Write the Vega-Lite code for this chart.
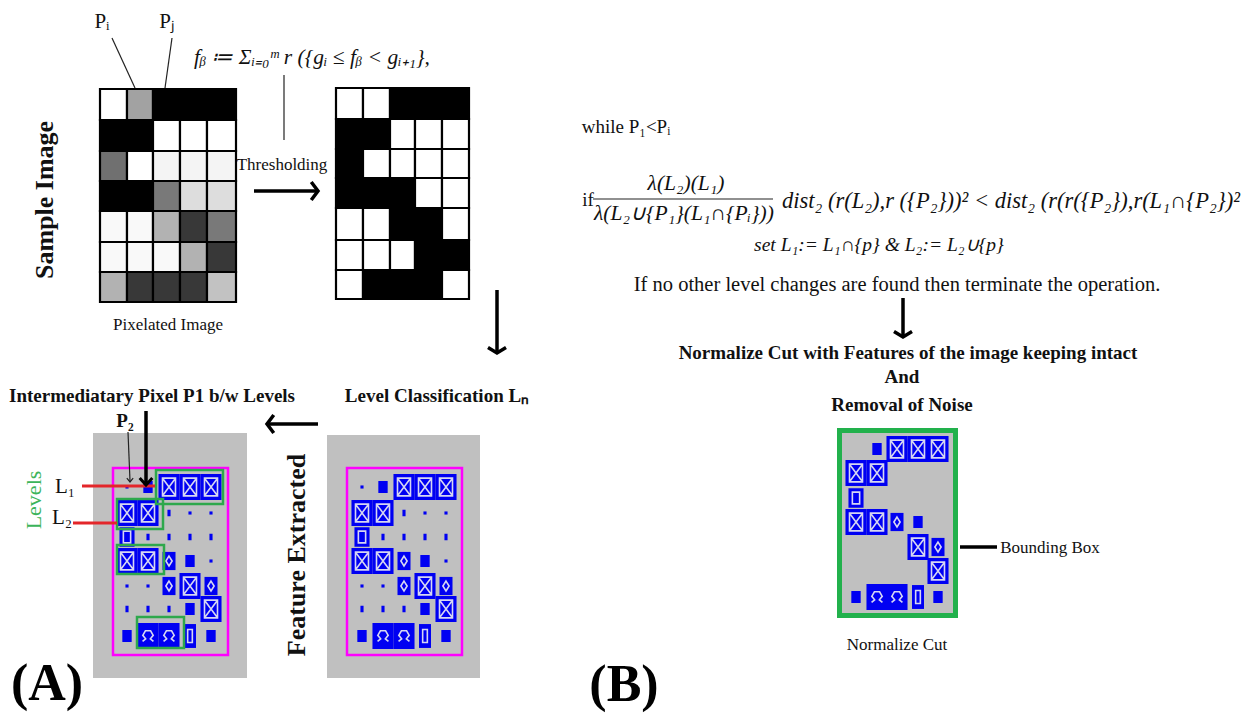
{
 "$schema": "https://vega.github.io/schema/vega-lite/v6.json",
 "width": 1256, "height": 713,
 "autosize": {"type": "fit", "contains": "padding"},
 "padding": 0,
 "background": "white",
 "config": {"view": {"stroke": null}},
 "resolve": {"scale": {"shape": "independent"}},
 "encoding": {
  "x": {"field": "x", "type": "quantitative", "scale": {"domain": [0, 1256], "nice": false, "zero": false}, "axis": null},
  "y": {"field": "y", "type": "quantitative", "scale": {"domain": [0, 713], "nice": false, "zero": false, "reverse": true}, "axis": null}
 },
 "layer": [
  {
   "data": {"values": [
    {"x": 93, "x2": 247, "y": 433, "y2": 678},
    {"x": 327, "x2": 480, "y": 435, "y2": 678}
   ]},
   "mark": {"type": "rect", "fill": "#c0c0c0"},
   "encoding": {"x2": {"field": "x2"}, "y2": {"field": "y2"}}
  },
  {
   "data": {"values": [
    {"x":100,"x2":127,"y":89,"y2":120,"v":255},{"x":127,"x2":153,"y":89,"y2":120,"v":170},{"x":153,"x2":180,"y":89,"y2":120,"v":0},{"x":180,"x2":207,"y":89,"y2":120,"v":0},{"x":207,"x2":236,"y":89,"y2":120,"v":0},
    {"x":100,"x2":127,"y":120,"y2":151,"v":0},{"x":127,"x2":153,"y":120,"y2":151,"v":0},{"x":153,"x2":180,"y":120,"y2":151,"v":255},{"x":180,"x2":207,"y":120,"y2":151,"v":255},{"x":207,"x2":236,"y":120,"y2":151,"v":255},
    {"x":100,"x2":127,"y":151,"y2":181,"v":120},{"x":127,"x2":153,"y":151,"y2":181,"v":255},{"x":153,"x2":180,"y":151,"y2":181,"v":245},{"x":180,"x2":207,"y":151,"y2":181,"v":245},{"x":207,"x2":236,"y":151,"y2":181,"v":245},
    {"x":100,"x2":127,"y":181,"y2":211,"v":0},{"x":127,"x2":153,"y":181,"y2":211,"v":0},{"x":153,"x2":180,"y":181,"y2":211,"v":130},{"x":180,"x2":207,"y":181,"y2":211,"v":225},{"x":207,"x2":236,"y":181,"y2":211,"v":225},
    {"x":100,"x2":127,"y":211,"y2":242,"v":250},{"x":127,"x2":153,"y":211,"y2":242,"v":250},{"x":153,"x2":180,"y":211,"y2":242,"v":185},{"x":180,"x2":207,"y":211,"y2":242,"v":60},{"x":207,"x2":236,"y":211,"y2":242,"v":130},
    {"x":100,"x2":127,"y":242,"y2":272,"v":250},{"x":127,"x2":153,"y":242,"y2":272,"v":250},{"x":153,"x2":180,"y":242,"y2":272,"v":250},{"x":180,"x2":207,"y":242,"y2":272,"v":185},{"x":207,"x2":236,"y":242,"y2":272,"v":60},
    {"x":100,"x2":127,"y":272,"y2":302,"v":185},{"x":127,"x2":153,"y":272,"y2":302,"v":60},{"x":153,"x2":180,"y":272,"y2":302,"v":60},{"x":180,"x2":207,"y":272,"y2":302,"v":60},{"x":207,"x2":236,"y":272,"y2":302,"v":200},
    {"x":336,"x2":363,"y":88,"y2":119,"v":255},{"x":363,"x2":390,"y":88,"y2":119,"v":255},{"x":390,"x2":415,"y":88,"y2":119,"v":0},{"x":415,"x2":442,"y":88,"y2":119,"v":0},{"x":442,"x2":469,"y":88,"y2":119,"v":0},
    {"x":336,"x2":363,"y":119,"y2":149,"v":0},{"x":363,"x2":390,"y":119,"y2":149,"v":0},{"x":390,"x2":415,"y":119,"y2":149,"v":255},{"x":415,"x2":442,"y":119,"y2":149,"v":255},{"x":442,"x2":469,"y":119,"y2":149,"v":255},
    {"x":336,"x2":363,"y":149,"y2":178,"v":0},{"x":363,"x2":390,"y":149,"y2":178,"v":255},{"x":390,"x2":415,"y":149,"y2":178,"v":255},{"x":415,"x2":442,"y":149,"y2":178,"v":255},{"x":442,"x2":469,"y":149,"y2":178,"v":255},
    {"x":336,"x2":363,"y":178,"y2":208,"v":0},{"x":363,"x2":390,"y":178,"y2":208,"v":0},{"x":390,"x2":415,"y":178,"y2":208,"v":0},{"x":415,"x2":442,"y":178,"y2":208,"v":255},{"x":442,"x2":469,"y":178,"y2":208,"v":255},
    {"x":336,"x2":363,"y":208,"y2":240,"v":255},{"x":363,"x2":390,"y":208,"y2":240,"v":255},{"x":390,"x2":415,"y":208,"y2":240,"v":0},{"x":415,"x2":442,"y":208,"y2":240,"v":0},{"x":442,"x2":469,"y":208,"y2":240,"v":255},
    {"x":336,"x2":363,"y":240,"y2":270,"v":255},{"x":363,"x2":390,"y":240,"y2":270,"v":255},{"x":390,"x2":415,"y":240,"y2":270,"v":255},{"x":415,"x2":442,"y":240,"y2":270,"v":0},{"x":442,"x2":469,"y":240,"y2":270,"v":0},
    {"x":336,"x2":363,"y":270,"y2":299,"v":255},{"x":363,"x2":390,"y":270,"y2":299,"v":0},{"x":390,"x2":415,"y":270,"y2":299,"v":0},{"x":415,"x2":442,"y":270,"y2":299,"v":0},{"x":442,"x2":469,"y":270,"y2":299,"v":255}
   ]},
   "mark": {"type": "rect", "stroke": "#000000", "strokeWidth": 2.2},
   "encoding": {
    "x2": {"field": "x2"}, "y2": {"field": "y2"},
    "fill": {"field": "v", "type": "quantitative", "scale": {"domain": [0, 255], "range": ["#000000", "#ffffff"]}, "legend": null}
   }
  },
  {
   "data": {"values": [
    {"x": 113, "x2": 228, "y": 468, "y2": 655},
    {"x": 347, "x2": 462, "y": 468, "y2": 655}
   ]},
   "mark": {"type": "rect", "fillOpacity": 0, "stroke": "#ff00ff", "strokeWidth": 2.5},
   "encoding": {"x2": {"field": "x2"}, "y2": {"field": "y2"}}
  },
  {
   "data": {"values": [{"x": 839.5, "x2": 955.5, "y": 430.5, "y2": 615.5}]},
   "mark": {"type": "rect", "fill": "#c0c0c0", "stroke": "#22b14c", "strokeWidth": 5},
   "encoding": {"x2": {"field": "x2"}, "y2": {"field": "y2"}}
  },
  {
   "data": {"name": "cells", "values": [
    {"x":127,"y":487,"k":"dot"},{"x":148,"y":487,"k":"sq"},{"x":169,"y":487,"k":"x"},{"x":190,"y":487,"k":"x"},{"x":211,"y":487,"k":"x"},
    {"x":127,"y":513,"k":"x"},{"x":148,"y":513,"k":"x"},{"x":169,"y":513,"k":"dash"},{"x":190,"y":513,"k":"dot"},{"x":211,"y":513,"k":"dot"},
    {"x":127,"y":537,"k":"o"},{"x":148,"y":537,"k":"dash"},{"x":169,"y":537,"k":"dash"},{"x":190,"y":537,"k":"dash"},{"x":211,"y":537,"k":"dash"},
    {"x":127,"y":561,"k":"x"},{"x":148,"y":561,"k":"x"},{"x":169,"y":561,"k":"d"},{"x":190,"y":561,"k":"sq"},{"x":211,"y":561,"k":"dot"},
    {"x":127,"y":586,"k":"dot"},{"x":148,"y":586,"k":"dot"},{"x":169,"y":586,"k":"d"},{"x":190,"y":586,"k":"x"},{"x":211,"y":586,"k":"d"},
    {"x":127,"y":609,"k":"dash"},{"x":148,"y":609,"k":"dash"},{"x":169,"y":609,"k":"dash"},{"x":190,"y":609,"k":"sq"},{"x":211,"y":609,"k":"x"},
    {"x":127,"y":636,"k":"sq"},{"x":148,"y":636,"k":"w"},{"x":169,"y":636,"k":"w"},{"x":190,"y":636,"k":"z"},{"x":211,"y":636,"k":"sq"},
    {"x":362,"y":487,"k":"dot"},{"x":383,"y":487,"k":"sq"},{"x":404,"y":487,"k":"x"},{"x":425,"y":487,"k":"x"},{"x":446,"y":487,"k":"x"},
    {"x":362,"y":513,"k":"x"},{"x":383,"y":513,"k":"x"},{"x":404,"y":513,"k":"dash"},{"x":425,"y":513,"k":"dot"},{"x":446,"y":513,"k":"dot"},
    {"x":362,"y":537,"k":"o"},{"x":383,"y":537,"k":"dash"},{"x":404,"y":537,"k":"dash"},{"x":425,"y":537,"k":"dash"},{"x":446,"y":537,"k":"dash"},
    {"x":362,"y":561,"k":"x"},{"x":383,"y":561,"k":"x"},{"x":404,"y":561,"k":"d"},{"x":425,"y":561,"k":"sq"},{"x":446,"y":561,"k":"dot"},
    {"x":362,"y":586,"k":"dot"},{"x":383,"y":586,"k":"dot"},{"x":404,"y":586,"k":"d"},{"x":425,"y":586,"k":"x"},{"x":446,"y":586,"k":"d"},
    {"x":362,"y":609,"k":"dash"},{"x":383,"y":609,"k":"dash"},{"x":404,"y":609,"k":"dash"},{"x":425,"y":609,"k":"sq"},{"x":446,"y":609,"k":"x"},
    {"x":362,"y":636,"k":"sq"},{"x":383,"y":636,"k":"w"},{"x":404,"y":636,"k":"w"},{"x":425,"y":636,"k":"z"},{"x":446,"y":636,"k":"sq"},
    {"x":877,"y":449,"k":"sq"},{"x":897,"y":449,"k":"x"},{"x":918,"y":449,"k":"x"},{"x":938,"y":449,"k":"x"},
    {"x":856,"y":473,"k":"x"},{"x":877,"y":473,"k":"x"},
    {"x":856,"y":498,"k":"o"},
    {"x":856,"y":522,"k":"x"},{"x":877,"y":522,"k":"x"},{"x":897,"y":522,"k":"d"},{"x":918,"y":522,"k":"sq"},
    {"x":918,"y":547,"k":"x"},{"x":938,"y":547,"k":"d"},
    {"x":938,"y":571,"k":"x"},
    {"x":856,"y":597,"k":"sq"},{"x":877,"y":597,"k":"w"},{"x":897,"y":597,"k":"w"},{"x":918,"y":597,"k":"z"},{"x":938,"y":597,"k":"sq"}
   ]},
   "mark": {"type": "point", "filled": true, "fill": "#0000f2", "strokeWidth": 0, "size": 676, "opacity": 1},
   "encoding": {
    "shape": {"field": "k", "type": "nominal", "legend": null, "scale": {
     "domain": ["x", "w", "o", "z", "d", "sq", "dot", "dash"],
     "range": ["M-0.81,-1H0.81V1H-0.81Z", "M-0.81,-1H0.81V1H-0.81Z", "M-0.58,-0.75H0.58V0.75H-0.58Z", "M-0.46,-0.92H0.46V0.92H-0.46Z", "M-0.5,-0.7H0.5V0.7H-0.5Z", "M-0.36,-0.46H0.36V0.46H-0.36Z", "M-0.12,-0.12H0.12V0.12H-0.12Z", "M-0.12,-0.25H0.12V0.25H-0.12Z"]
    }}
   }
  },
  {
   "data": {"name": "cells"},
   "transform": [{"filter": {"field": "k", "oneOf": ["x", "w", "o", "z", "d"]}}],
   "mark": {"type": "point", "filled": false, "stroke": "#d6d6f2", "strokeWidth": 1.6, "size": 676, "opacity": 1},
   "encoding": {
    "shape": {"field": "k", "type": "nominal", "legend": null, "scale": {
     "domain": ["x", "w", "o", "z", "d"],
     "range": ["M-0.5,-0.68H0.5V0.68H-0.5ZM-0.5,-0.68L0.5,0.68M0.5,-0.68L-0.5,0.68", "M-0.42,0.42L-0.18,0.22L-0.4,-0.05L-0.2,-0.4H0.2L0.4,-0.05L0.18,0.22L0.42,0.42", "M-0.28,-0.45H0.28V0.45H-0.28Z", "M-0.18,-0.5H0.18V0.5H-0.18Z", "M0,-0.38L0.24,0L0,0.38L-0.24,0Z"]
    }}
   }
  },
  {
   "data": {"values": [
    {"x": 156, "x2": 223, "y": 470, "y2": 504},
    {"x": 117, "x2": 163, "y": 499, "y2": 529},
    {"x": 117, "x2": 164, "y": 545, "y2": 574},
    {"x": 137, "x2": 184, "y": 617, "y2": 648}
   ]},
   "mark": {"type": "rect", "fillOpacity": 0, "stroke": "#2ea84c", "strokeWidth": 2.5},
   "encoding": {"x2": {"field": "x2"}, "y2": {"field": "y2"}}
  },
  {
   "data": {"values": [
    {"x": 112, "y": 38, "x2": 135, "y2": 88},
    {"x": 172, "y": 38, "x2": 165, "y2": 88},
    {"x": 284, "y": 75, "x2": 284, "y2": 140},
    {"x": 593, "y": 199, "x2": 773, "y2": 199},
    {"x": 128, "y": 432, "x2": 130, "y2": 481}
   ]},
   "mark": {"type": "rule", "stroke": "#222222", "strokeWidth": 1.2},
   "encoding": {"x2": {"field": "x2"}, "y2": {"field": "y2"}}
  },
  {
   "data": {"values": [
    {"x": 254, "y": 191, "x2": 317, "y2": 191},
    {"x": 497, "y": 290, "x2": 497, "y2": 352},
    {"x": 318, "y": 424, "x2": 268, "y2": 424},
    {"x": 146, "y": 411, "x2": 146, "y2": 483},
    {"x": 903, "y": 298, "x2": 903, "y2": 335},
    {"x": 960, "y": 547, "x2": 997, "y2": 547}
   ]},
   "mark": {"type": "rule", "stroke": "#000000", "strokeWidth": 3.5},
   "encoding": {"x2": {"field": "x2"}, "y2": {"field": "y2"}}
  },
  {
   "data": {"values": [
    {"x": 82, "y": 486, "x2": 155, "y2": 486},
    {"x": 73, "y": 523, "x2": 117, "y2": 523}
   ]},
   "mark": {"type": "rule", "stroke": "#e3262a", "strokeWidth": 3},
   "encoding": {"x2": {"field": "x2"}, "y2": {"field": "y2"}}
  },
  {
   "data": {"values": [
    {"x": 318, "y": 191, "d": "right"},
    {"x": 497, "y": 353, "d": "down"},
    {"x": 267, "y": 424, "d": "left"},
    {"x": 903, "y": 337, "d": "down"}
   ]},
   "mark": {"type": "point", "filled": false, "stroke": "#000000", "strokeWidth": 3.5, "size": 324, "opacity": 1},
   "encoding": {
    "shape": {"field": "d", "type": "nominal", "legend": null, "scale": {
     "domain": ["right", "down", "left"],
     "range": ["M-0.75,-1L0,0L-0.75,1", "M-1,-0.6L0,0L1,-0.6", "M0.75,-1L0,0L0.75,1"]
    }}
   }
  },
  {
   "data": {"values": [
    {"x": 146, "y": 485, "d": "thick"}
   ]},
   "mark": {"type": "point", "filled": false, "stroke": "#000000", "strokeWidth": 3, "size": 160, "opacity": 1},
   "encoding": {
    "shape": {"field": "d", "type": "nominal", "legend": null, "scale": {"domain": ["thick"], "range": ["M-1,-1.1L0,0L1,-1.1"]}}
   }
  },
  {
   "data": {"values": [
    {"x": 130, "y": 482, "d": "thin"}
   ]},
   "mark": {"type": "point", "filled": false, "stroke": "#222222", "strokeWidth": 1.2, "size": 40, "opacity": 1},
   "encoding": {
    "shape": {"field": "d", "type": "nominal", "legend": null, "scale": {"domain": ["thin"], "range": ["M-1,-1.2L0,0L1,-1.2"]}}
   }
  },
  {
   "data": {"values": [
    {"x": 282, "y": 165, "t": "Thresholding"},
    {"x": 168, "y": 325, "t": "Pixelated Image"},
    {"x": 1050, "y": 548, "t": "Bounding Box"},
    {"x": 897, "y": 645, "t": "Normalize Cut"}
   ]},
   "mark": {"type": "text", "font": "Liberation Serif", "fontSize": 17, "baseline": "middle", "align": "center", "color": "#111111"},
   "encoding": {"text": {"field": "t"}}
  },
  {
   "data": {"values": [
    {"x": 897, "y": 285, "t": "If no other level changes are found then terminate the operation."}
   ]},
   "mark": {"type": "text", "font": "Liberation Serif", "fontSize": 20.5, "baseline": "middle", "align": "center", "color": "#111111"},
   "encoding": {"text": {"field": "t"}}
  },
  {
   "data": {"values": [
    {"x": 626, "y": 127, "t": "while P₁<Pᵢ"},
    {"x": 588, "y": 200, "t": "if"}
   ]},
   "mark": {"type": "text", "font": "Liberation Serif", "fontSize": 19, "baseline": "middle", "align": "center", "color": "#111111"},
   "encoding": {"text": {"field": "t"}}
  },
  {
   "data": {"values": [
    {"x": 102, "y": 22, "t": "Pᵢ"},
    {"x": 167, "y": 22, "t": "Pⱼ"},
    {"x": 65, "y": 487, "t": "L₁"},
    {"x": 62, "y": 518, "t": "L₂"}
   ]},
   "mark": {"type": "text", "font": "Liberation Serif", "fontSize": 21, "baseline": "middle", "align": "center", "color": "#111111"},
   "encoding": {"text": {"field": "t"}}
  },
  {
   "data": {"values": [
    {"x": 152, "y": 396, "t": "Intermediatary Pixel P1 b/w Levels"},
    {"x": 437, "y": 396, "t": "Level Classification Lₙ"},
    {"x": 908, "y": 353, "t": "Normalize Cut with Features of the image keeping  intact"},
    {"x": 902, "y": 377, "t": "And"},
    {"x": 902, "y": 405, "t": "Removal of Noise"},
    {"x": 125, "y": 421, "t": "P₂"}
   ]},
   "mark": {"type": "text", "font": "Liberation Serif", "fontSize": 19, "fontWeight": "bold", "baseline": "middle", "align": "center", "color": "#111111"},
   "encoding": {"text": {"field": "t"}}
  },
  {
   "data": {"values": [
    {"x": 45, "y": 200, "t": "Sample Image"},
    {"x": 297, "y": 555, "t": "Feature Extracted"}
   ]},
   "mark": {"type": "text", "font": "Liberation Serif", "fontSize": 26, "fontWeight": "bold", "baseline": "middle", "align": "center", "angle": 270, "color": "#111111"},
   "encoding": {"text": {"field": "t"}}
  },
  {
   "data": {"values": [{"x": 34, "y": 500, "t": "Levels"}]},
   "mark": {"type": "text", "font": "Liberation Serif", "fontSize": 22, "baseline": "middle", "align": "center", "angle": 270, "color": "#3cb45a"},
   "encoding": {"text": {"field": "t"}}
  },
  {
   "data": {"values": [
    {"x": 47, "y": 684, "t": "(A)"},
    {"x": 624, "y": 685, "t": "(B)"}
   ]},
   "mark": {"type": "text", "font": "Liberation Serif", "fontSize": 52, "fontWeight": "bold", "baseline": "middle", "align": "center", "color": "#000000"},
   "encoding": {"text": {"field": "t"}}
  },
  {
   "data": {"values": [
    {"x": 312, "y": 58, "t": "fᵦ ≔ Σᵢ₌₀ᵐ r  ({gᵢ ≤ fᵦ < gᵢ₊₁},"},
    {"x": 686, "y": 184, "t": "λ(L₂)(L₁)"},
    {"x": 684, "y": 214, "t": "λ(L₂∪{P₁}(L₁∩{Pᵢ}))"}
   ]},
   "mark": {"type": "text", "font": "Liberation Serif", "fontSize": 21.5, "fontStyle": "italic", "baseline": "middle", "align": "center", "color": "#111111"},
   "encoding": {"text": {"field": "t"}}
  },
  {
   "data": {"values": [
    {"x": 1011, "y": 201, "t": "dist₂ (r(L₂),r ({P₂}))² < dist₂ (r(r({P₂}),r(L₁∩{P₂})²"}
   ]},
   "mark": {"type": "text", "font": "Liberation Serif", "fontSize": 22.5, "fontStyle": "italic", "baseline": "middle", "align": "center", "color": "#111111"},
   "encoding": {"text": {"field": "t"}}
  },
  {
   "data": {"values": [
    {"x": 879, "y": 245, "t": "set L₁:=  L₁∩{p} & L₂:=  L₂∪{p}"}
   ]},
   "mark": {"type": "text", "font": "Liberation Serif", "fontSize": 19.5, "fontStyle": "italic", "baseline": "middle", "align": "center", "color": "#111111"},
   "encoding": {"text": {"field": "t"}}
  }
 ]
}
